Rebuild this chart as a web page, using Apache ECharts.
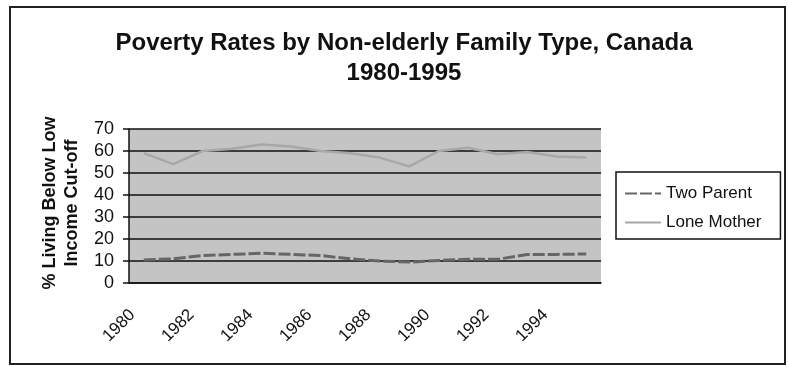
<!DOCTYPE html>
<html>
<head>
<meta charset="utf-8">
<script src="https://cdn.jsdelivr.net/npm/echarts@6/dist/echarts.min.js"></script>
<style>
  html, body { margin: 0; padding: 0; background: #ffffff; }
  #chart { width: 788px; height: 367px; }
</style>
</head>
<body>
<div id="chart"></div>
<script>
// Poverty rates (%) of non-elderly families in Canada, by family type
const years = ['1980', '1981', '1982', '1983', '1984', '1985', '1986', '1987',
               '1988', '1989', '1990', '1991', '1992', '1993', '1994', '1995'];
const twoParent  = [10.5, 11, 12.5, 13, 13.5, 13, 12.5, 11, 10, 9.5, 10.2, 10.8, 10.8, 13, 13, 13.2];
const loneMother = [59, 54, 60, 61, 63, 62, 60, 59, 57, 53, 60, 61.5, 58.5, 59.5, 57.5, 57];
const yTicks = [0, 10, 20, 30, 40, 50, 60, 70];

const FONT = '"Liberation Sans", Arial, sans-serif';
const chart = echarts.init(document.getElementById('chart'), null, { renderer: 'canvas' });

chart.setOption({
  backgroundColor: '#ffffff',
  animation: false,
  title: {
    text: 'Poverty Rates by Non-elderly Family Type, Canada\n1980-1995',
    left: 399,
    textAlign: 'center',
    top: 23,
    textStyle: { fontFamily: FONT, fontSize: 24, fontWeight: 'bold', color: '#111', lineHeight: 30 }
  },
  graphic: [
    {
      type: 'rect', z: -10, silent: true,
      shape: { x: 10, y: 7, width: 775, height: 357 },
      style: { fill: '#ffffff', stroke: '#222', lineWidth: 2 }
    },
    {
      type: 'text', silent: true,
      x: 61, y: 203, rotation: Math.PI / 2,
      style: {
        text: '% Living Below Low\nIncome Cut-off',
        align: 'center', verticalAlign: 'middle',
        font: 'bold 18px ' + FONT, fill: '#111', lineHeight: 22
      }
    }
  ],
  legend: {
    orient: 'vertical',
    left: 616, top: 172,
    padding: [13, 19, 8, 8],
    itemGap: 12,
    itemWidth: 36, itemHeight: 17,
    borderColor: '#111', borderWidth: 1.5,
    itemStyle: { opacity: 0 },
    textStyle: { fontFamily: FONT, fontSize: 17, color: '#111' },
    data: ['Two Parent', 'Lone Mother']
  },
  grid: {
    left: 129, right: 187, top: 129, bottom: 84,
    show: true, backgroundColor: '#c4c4c4', borderWidth: 0
  },
  xAxis: {
    type: 'category',
    data: years,
    boundaryGap: true,
    axisLine: { lineStyle: { color: '#111', width: 1.5 } },
    axisTick: { interval: 0, length: 6, lineStyle: { color: '#111', width: 1.5 } },
    axisLabel: {
      interval: 1, rotate: 45, margin: 18, padding: [0, 16, 0, 0],
      fontFamily: FONT, fontSize: 17, color: '#111'
    },
    splitLine: { show: false }
  },
  yAxis: {
    type: 'value',
    min: yTicks[0], max: yTicks[yTicks.length - 1], interval: 10,
    axisLine: { show: true, lineStyle: { color: '#111', width: 1.5 } },
    axisTick: { show: true, length: 6, lineStyle: { color: '#111', width: 1.5 } },
    axisLabel: { margin: 15, fontFamily: FONT, fontSize: 18, color: '#111' },
    splitLine: { lineStyle: { color: '#111', width: 1.5 } }
  },
  series: [
    {
      name: 'Two Parent',
      type: 'line',
      data: twoParent,
      symbol: 'none',
      lineStyle: { color: '#666666', width: 3, type: [12, 3] },
      itemStyle: { color: '#666666' },
      z: 3
    },
    {
      name: 'Lone Mother',
      type: 'line',
      data: loneMother,
      symbol: 'none',
      lineStyle: { color: '#a8a8a8', width: 2.5 },
      itemStyle: { color: '#a8a8a8' },
      z: 3
    }
  ]
});
</script>
</body>
</html>
